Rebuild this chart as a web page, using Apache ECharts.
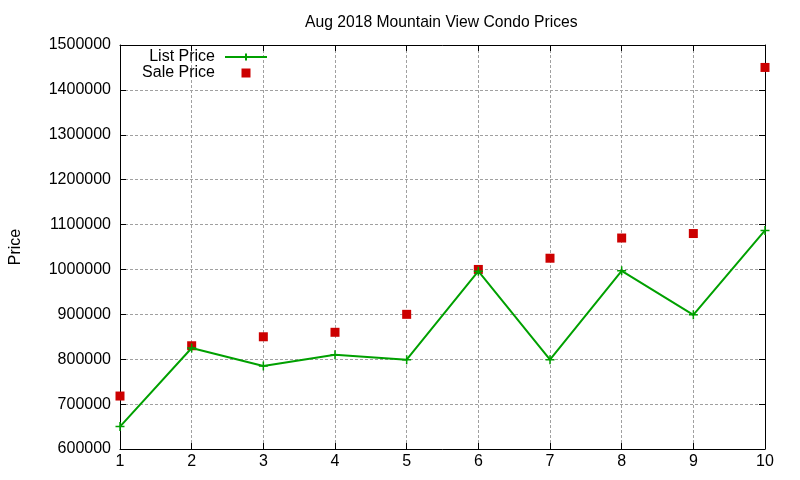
<!DOCTYPE html>
<html>
<head>
<meta charset="utf-8">
<script src="https://cdn.jsdelivr.net/npm/echarts@6/dist/echarts.min.js"></script>
<style>
	html, body { margin: 0; padding: 0; background: #fff; }
	#chart { width: 800px; height: 480px; }
</style>
</head>
<body>
<div id="chart"></div>
<script>
	// values
	var xValues = [1, 2, 3, 4, 5, 6, 7, 8, 9, 10];
	var listPrice = [650000, 825000, 785000, 810000, 799000, 996000, 799000, 997000, 899000, 1087000];
	var salePrice = [718000, 830000, 850000, 860000, 900000, 1000000, 1025000, 1070000, 1080000, 1450000];

	var font = 'Liberation Sans, Arial, sans-serif';

	function pairs(xs, ys) {
		var out = [];
		for (var i = 0; i < xs.length; i++) out.push([xs[i], ys[i]]);
		return out;
	}

	var chart = echarts.init(document.getElementById('chart'));
	chart.setOption({
		animation: false,
		textStyle: { fontFamily: font },
		title: {
			text: 'Aug 2018 Mountain View Condo Prices',
			left: 300,
			top: 10,
			textStyle: { fontSize: 15.7, fontWeight: 'normal', color: '#000', fontFamily: font }
		},
		legend: {
			orient: 'vertical',
			align: 'right',
			right: 532,
			top: 49,
			itemGap: 0,
			itemWidth: 42,
			itemHeight: 9,
			padding: 0,
			textStyle: { fontSize: 16, color: '#000', fontFamily: font, padding: [0, 5, 0, 0] },
			data: [
				{ name: 'List Price' },
				{ name: 'Sale Price', icon: 'path://M0,0h10v10h-10z' }
			]
		},
		grid: { left: 119, right: 35, top: 45, bottom: 31 },
		xAxis: [
			{
				type: 'value', min: 1, max: 10, interval: 1,
				axisLine: { onZero: false, lineStyle: { color: '#000', width: 1 } },
				axisTick: { inside: true, length: 6, lineStyle: { color: '#000' } },
				axisLabel: { fontSize: 16, color: '#000', margin: 5, fontFamily: font },
				splitLine: { show: true, lineStyle: { color: '#a0a0a0', type: [3, 2], width: 1 } }
			},
			{
				type: 'value', min: 1, max: 10, interval: 1, position: 'top',
				axisLine: { onZero: false, lineStyle: { color: '#000', width: 1 } },
				axisTick: { inside: true, length: 6, lineStyle: { color: '#000' } },
				axisLabel: { show: false },
				splitLine: { show: false }
			}
		],
		yAxis: [
			{
				type: 'value', min: 600000, max: 1500000, interval: 100000,
				name: 'Price', nameLocation: 'middle', nameGap: 96,
				nameTextStyle: { fontSize: 16, color: '#000', fontFamily: font },
				axisLine: { show: true, onZero: false, lineStyle: { color: '#000', width: 1 } },
				axisTick: { show: true, inside: true, length: 6, lineStyle: { color: '#000' } },
				axisLabel: {
					fontSize: 16, color: '#000', margin: 9, fontFamily: font,
					formatter: function (v) { return String(v); }
				},
				splitLine: { show: true, lineStyle: { color: '#a0a0a0', type: [3, 2], width: 1 } }
			},
			{
				type: 'value', min: 600000, max: 1500000, interval: 100000, position: 'right',
				axisLine: { show: true, onZero: false, lineStyle: { color: '#000', width: 1 } },
				axisTick: { show: true, inside: true, length: 6, lineStyle: { color: '#000' } },
				axisLabel: { show: false },
				splitLine: { show: false }
			}
		],
		series: [
			{
				name: 'List Price',
				type: 'line',
				data: pairs(xValues, listPrice),
				symbol: 'path://M5,0V10M0,5H10',
				symbolSize: 9,
				showAllSymbol: true,
				lineStyle: { color: '#00a000', width: 2 },
				itemStyle: { color: '#00a000', borderColor: '#00a000', borderWidth: 1.5 },
				z: 3
			},
			{
				name: 'Sale Price',
				type: 'scatter',
				data: pairs(xValues, salePrice),
				symbol: 'rect',
				symbolSize: 9,
				itemStyle: { color: '#cc0000', opacity: 1 },
				z: 2
			}
		]
	});
</script>
</body>
</html>
